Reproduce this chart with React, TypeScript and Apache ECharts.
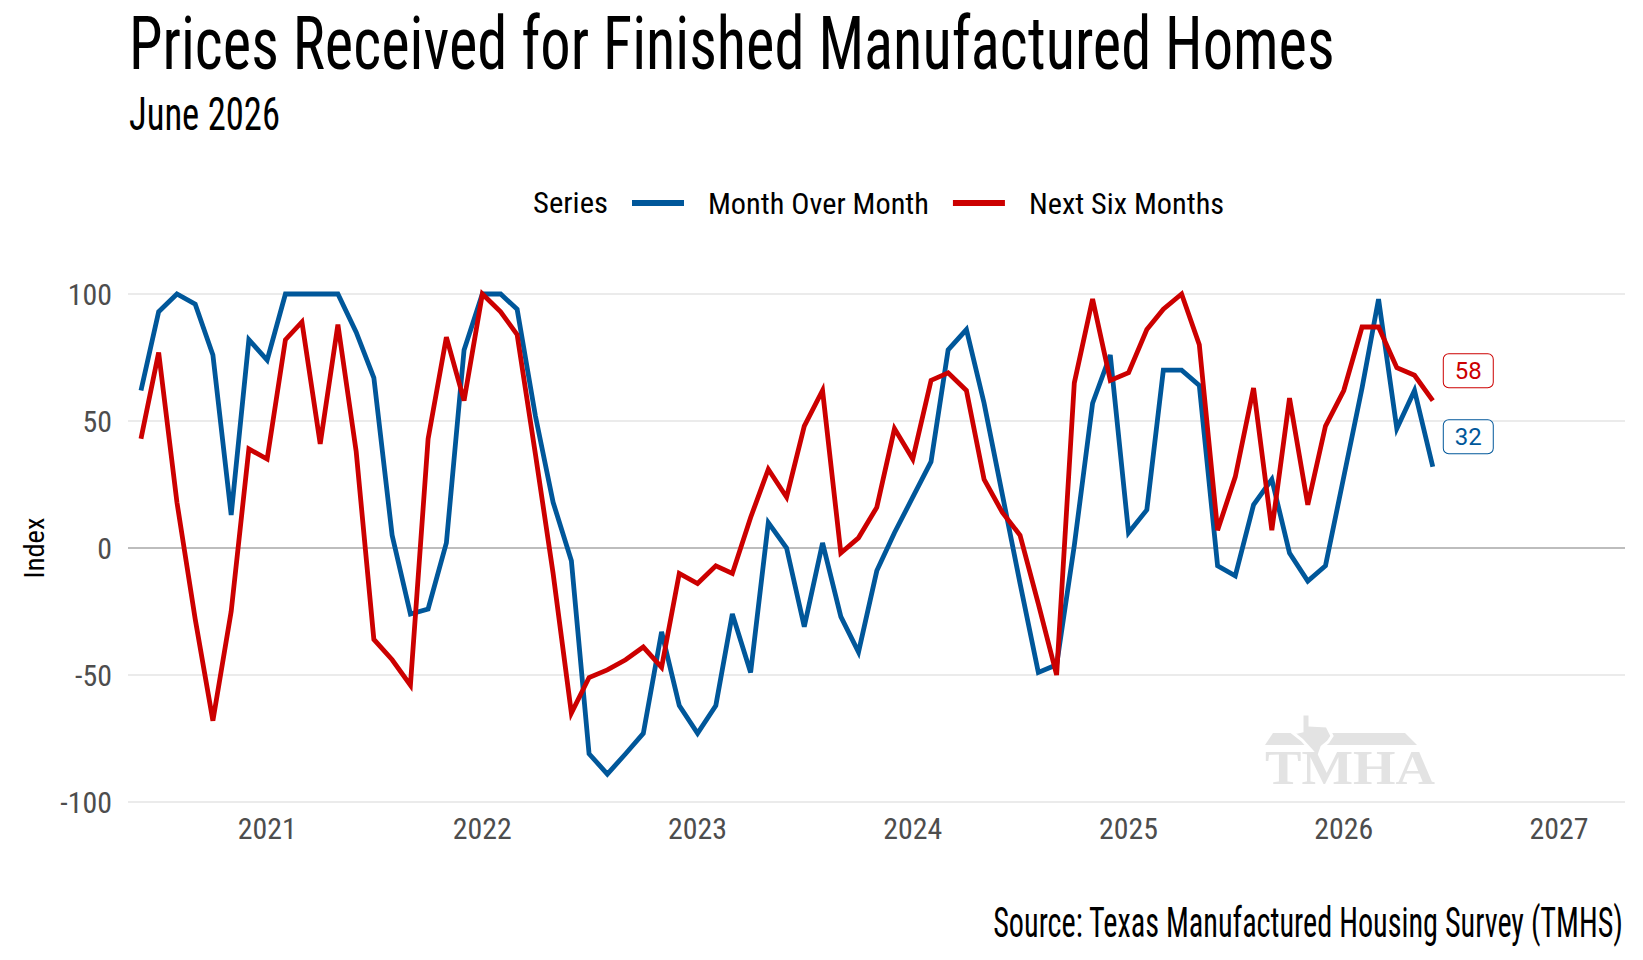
import React, { useEffect, useRef } from "react";
import * as echarts from "echarts";

// ---------- data ----------
const months: string[] = [
  "2020-06", "2020-07", "2020-08", "2020-09", "2020-10", "2020-11", "2020-12",
  "2021-01", "2021-02", "2021-03", "2021-04", "2021-05", "2021-06", "2021-07", "2021-08", "2021-09", "2021-10", "2021-11", "2021-12",
  "2022-01", "2022-02", "2022-03", "2022-04", "2022-05", "2022-06", "2022-07", "2022-08", "2022-09", "2022-10", "2022-11", "2022-12",
  "2023-01", "2023-02", "2023-03", "2023-04", "2023-05", "2023-06", "2023-07", "2023-08", "2023-09", "2023-10", "2023-11", "2023-12",
  "2024-01", "2024-02", "2024-03", "2024-04", "2024-05", "2024-06", "2024-07", "2024-08", "2024-09", "2024-10", "2024-11", "2024-12",
  "2025-01", "2025-02", "2025-03", "2025-04", "2025-05", "2025-06", "2025-07", "2025-08", "2025-09", "2025-10", "2025-11", "2025-12",
  "2026-01", "2026-02", "2026-03", "2026-04", "2026-05", "2026-06",
];

const monthOverMonth: number[] = [
  62, 93, 100, 96, 76, 13, 82,
  74, 100, 100, 100, 100, 85, 67, 5, -26, -24, 2, 78,
  100, 100, 94, 52, 18, -5, -81, -89, -81, -73, -33, -62,
  -73, -62, -26, -49, 10, 0, -31, 2, -27, -41, -9, 6,
  20, 34, 78, 86, 57, 21, -14, -49, -46, 1, 57, 76,
  6, 15, 70, 70, 64, -7, -11, 17, 27, -2, -13, -7,
  28, 63, 98, 47, 62, 32,
];

const nextSixMonths: number[] = [
  43, 77, 18, -28, -68, -25, 39,
  35, 82, 89, 41, 88, 38, -36, -44, -54, 43, 83, 58,
  100, 93, 84, 37, -10, -65, -51, -48, -44, -39, -47, -10,
  -14, -7, -10, 12, 31, 20, 48, 62, -2, 4, 16, 47,
  35, 66, 69, 62, 27, 14, 5, -22, -50, 65, 98, 66,
  69, 86, 94, 100, 80, 7, 28, 63, 7, 59, 17, 48,
  62, 87, 87, 71, 68, 58,
];

const yTicks: number[] = [-100, -50, 0, 50, 100];
const seriesNames: string[] = ["Month Over Month", "Next Six Months"];

const TITLE = "Prices Received for Finished Manufactured Homes";
const SUBTITLE = "June 2026";
const SOURCE = "Source: Texas Manufactured Housing Survey (TMHS)";
const LEGEND_TITLE = "Series";
const Y_NAME = "Index";
const WATERMARK = "TMHA";

// ---------- styles ----------
const BLUE = "#00579a";
const RED = "#cc0000";
const PLAIN = "Roboto, 'Liberation Sans', sans-serif";
const SERIF = "'Liberation Serif', 'DejaVu Serif', serif";
const WM = "#e3e3e3";

const CONDENSED_CANDIDATES = [
  "Roboto Condensed",
  "Noto Sans Condensed",
  "Noto Sans SemiCondensed",
  "Open Sans Condensed",
  "Liberation Sans Narrow",
  "DejaVu Sans Condensed",
];

let measureCtx: CanvasRenderingContext2D | null = null;
function ctx2d(): CanvasRenderingContext2D | null {
  if (!measureCtx) measureCtx = document.createElement("canvas").getContext("2d");
  return measureCtx;
}

function measure(text: string, size: number, family: string, weight = "normal"): number {
  const ctx = ctx2d();
  if (!ctx) return text.length * size * 0.5;
  ctx.font = `${weight} ${size}px ${family}`;
  return ctx.measureText(text).width;
}

function fontAvailable(name: string): boolean {
  const probe = "mmmmmmmmmmlliiWWW0123456789";
  for (const base of ["monospace", "serif"]) {
    const a = measure(probe, 72, base);
    const b = measure(probe, 72, `'${name}', ${base}`);
    if (Math.abs(a - b) > 0.5) return true;
  }
  return false;
}

function pickFamily(): string {
  for (const c of CONDENSED_CANDIDATES) {
    if (fontAvailable(c)) return `'${c}', Roboto, sans-serif`;
  }
  return "Roboto, 'Liberation Sans', sans-serif";
}

function sizeForWidth(text: string, width: number, family: string): number {
  return (width / measure(text, 100, family)) * 100;
}

function fitText(
  text: string,
  x: number,
  y: number,
  size: number,
  width: number,
  align: "left" | "right",
  family: string,
  fill = "#000",
  weight = "normal"
) {
  const s = width / measure(text, size, family, weight);
  return {
    type: "text",
    x,
    y,
    scaleX: s,
    scaleY: 1,
    silent: true,
    style: {
      text,
      fontSize: size,
      fontFamily: family,
      fontWeight: weight,
      fill,
      align,
      textAlign: align,
      verticalAlign: "middle",
      textVerticalAlign: "middle",
    },
  };
}

function toTime(m: string): number {
  const [y, mo] = m.split("-").map(Number);
  return Date.UTC(y, mo - 1, 1);
}

function buildOption(): any {
  const NARROW = pickFamily();
  const axisSize = Math.min(36, sizeForWidth("2021", 59, NARROW));
  const legendSize = Math.min(38, sizeForWidth(seriesNames[0], 221, NARROW));
  const nameSize = Math.min(36, sizeForWidth(Y_NAME, 61, NARROW));
  const legendLine = legendSize * 1.2;

  const momData = months.map((m, i) => [toTime(m), monthOverMonth[i]]);
  const nsmData = months.map((m, i) => [toTime(m), nextSixMonths[i]]);

  const endLabel = (color: string) => ({
    show: true,
    formatter: (p: any) => String(p.value[1]),
    color,
    fontSize: 24,
    fontFamily: PLAIN,
    lineHeight: 24,
    backgroundColor: "#fff",
    borderColor: color,
    borderWidth: 1,
    borderRadius: 5,
    padding: [4, 11, 5, 11],
    distance: 11,
    offset: [0, -30],
  });

  const texas = [
    [1302, 714], [1310, 714], [1310, 725], [1327, 726], [1332, 736], [1328, 742],
    [1322, 747], [1318, 758], [1311, 750], [1302, 740], [1293, 733], [1302, 731],
  ];

  return {
    animation: false,
    backgroundColor: "#fff",
    useUTC: true,
    grid: { left: 128, right: 18, top: 294, bottom: 158, containLabel: false },
    legend: {
      left: 627,
      top: 198 - legendLine / 2,
      icon: "rect",
      itemWidth: 52,
      itemHeight: 6,
      itemGap: 24,
      data: seriesNames,
      textStyle: { fontSize: legendSize, lineHeight: legendLine, fontFamily: NARROW, color: "#000", padding: [0, 0, 0, 19] },
    },
    xAxis: {
      type: "time",
      min: Date.UTC(2020, 4, 10),
      max: Date.UTC(2027, 3, 23),
      minInterval: 365 * 86400000,
      maxInterval: 366 * 86400000,
      axisLine: { show: false },
      axisTick: { show: false },
      splitLine: { show: false },
      axisLabel: {
        color: "#4d4d4d",
        fontSize: axisSize,
        fontFamily: NARROW,
        margin: 28 - axisSize * 0.55,
        hideOverlap: false,
        formatter: (v: number) => {
          const d = new Date(v);
          return d.getUTCMonth() === 0 && d.getUTCDate() === 1 ? String(d.getUTCFullYear()) : "";
        },
      },
    },
    yAxis: {
      type: "value",
      min: yTicks[0],
      max: yTicks[yTicks.length - 1],
      interval: 50,
      name: Y_NAME,
      nameLocation: "middle",
      nameRotate: 90,
      nameGap: 134 - 31.5 - nameSize * 0.82,
      nameTextStyle: { color: "#000", fontSize: nameSize, fontFamily: NARROW },
      axisLine: { show: false },
      axisTick: { show: false },
      axisLabel: { color: "#4d4d4d", fontSize: axisSize, fontFamily: NARROW, margin: 16 },
      splitLine: {
        lineStyle: {
          color: yTicks.map((t) => (t === 0 ? "#bdbdbd" : "#ebebeb")),
          width: 2,
        },
      },
    },
    graphic: [
      fitText(TITLE, 129, 43.5, 74, 1205, "left", NARROW),
      fitText(SUBTITLE, 129, 113.5, 46, 151, "left", NARROW),
      fitText(SOURCE, 1623, 923, 42, 631, "right", NARROW),
      fitText(LEGEND_TITLE, 533, 203, legendSize, 75, "left", NARROW),
      {
        type: "group",
        silent: true,
        z: 1,
        children: [
          {
            type: "polygon",
            shape: { points: [[1265, 745], [1273, 733], [1405, 733], [1417, 745]] },
            style: { fill: WM },
          },
          {
            type: "polygon",
            shape: { points: texas },
            style: { fill: WM, stroke: "#fff", lineWidth: 3 },
          },
          fitText(WATERMARK, 1265, 767.5, 49, 170, "left", SERIF, WM, "bold"),
        ],
      },
    ],
    series: [
      {
        name: seriesNames[0],
        type: "line",
        data: momData,
        showSymbol: false,
        symbol: "none",
        clip: false,
        z: 3,
        lineStyle: { color: BLUE, width: 4.8, join: "miter" },
        itemStyle: { color: BLUE },
        endLabel: endLabel(BLUE),
      },
      {
        name: seriesNames[1],
        type: "line",
        data: nsmData,
        showSymbol: false,
        symbol: "none",
        clip: false,
        z: 4,
        lineStyle: { color: RED, width: 4.8, join: "miter" },
        itemStyle: { color: RED },
        endLabel: endLabel(RED),
      },
    ],
  };
}

export default function App() {
  const ref = useRef<HTMLDivElement>(null);
  useEffect(() => {
    if (!ref.current) return;
    const chart = echarts.init(ref.current, null, { renderer: "svg" });
    chart.setOption(buildOption());
    return () => chart.dispose();
  }, []);
  return (
    <div
      ref={ref}
      style={{ position: "fixed", left: 0, top: 0, width: 1643, height: 960, background: "#fff" }}
    />
  );
}
